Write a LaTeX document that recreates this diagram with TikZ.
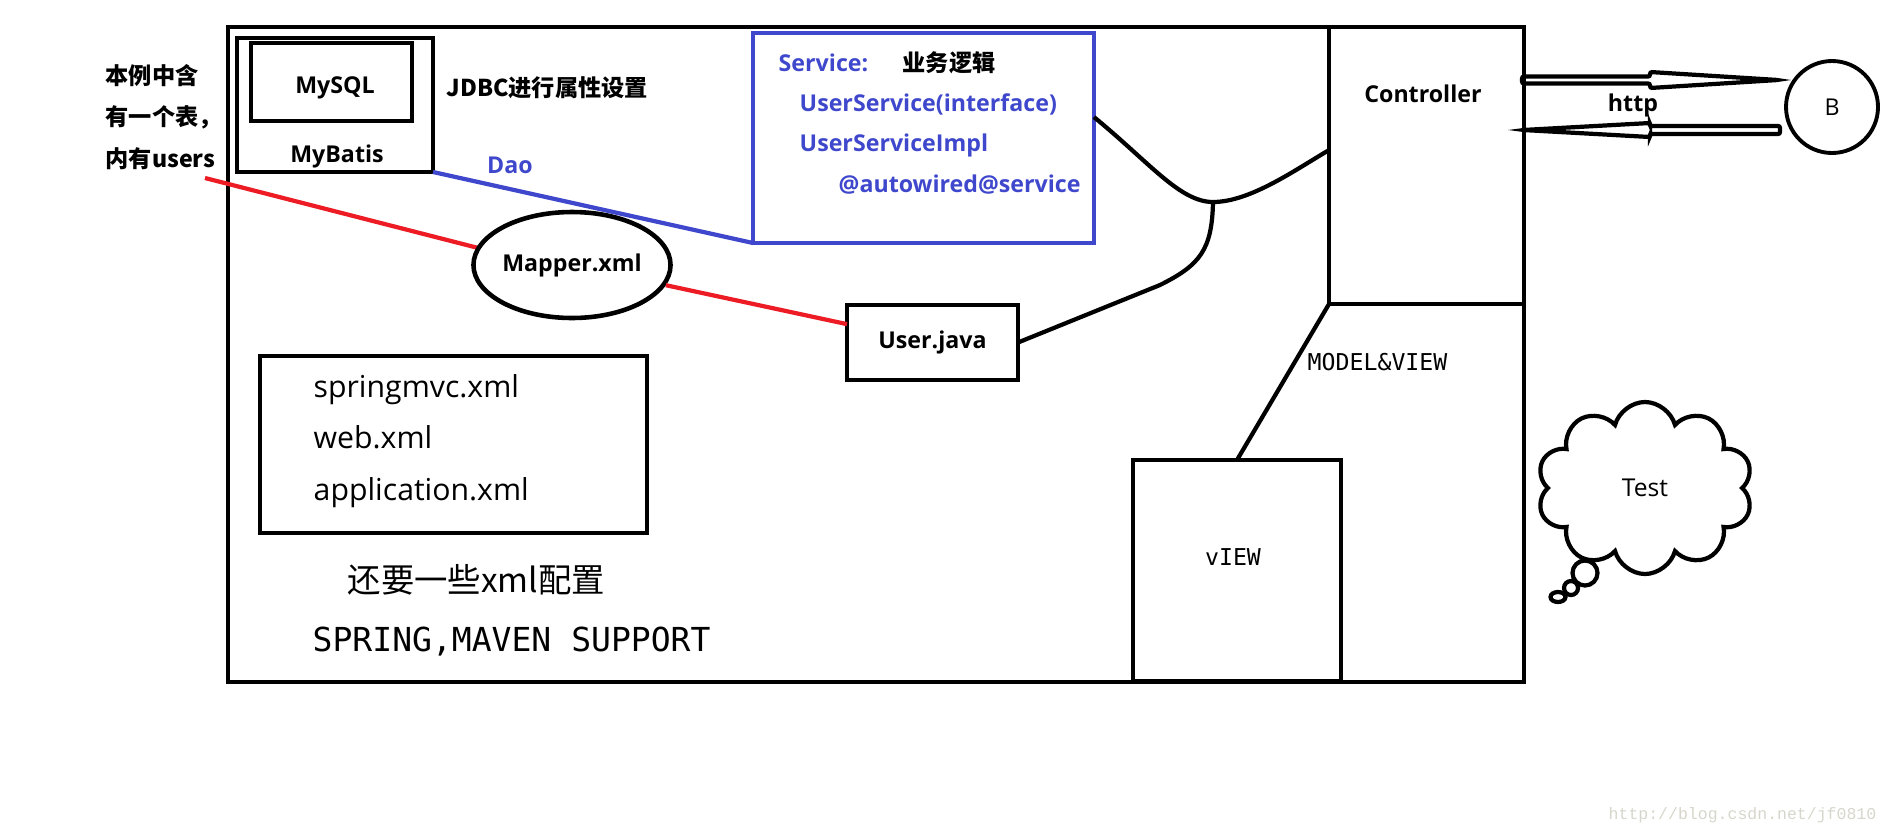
\documentclass[tikz,border=0pt]{standalone}
\usepackage{fontspec}
\setmainfont{Open Sans}
\setmonofont{DejaVu Sans Mono}
\newfontfamily\cjk{Noto Sans CJK SC}
\newfontfamily\wmfont{Liberation Mono}
\usetikzlibrary{shapes.geometric, shapes.symbols}
\definecolor{paintblue}{RGB}{63,72,204}
\definecolor{paintred}{RGB}{237,28,36}
\definecolor{wmgray}{RGB}{214,214,204}
\tikzstyle{frame} = [draw=black, line width=1.3pt]
\tikzstyle{box} = [
    rectangle,
    draw=black,
    line width=1.3pt,
    inner sep=0pt,
    outer sep=0pt
]
\tikzstyle{bluebox} = [box, draw=paintblue]
\tikzstyle{bold} = [
    font=\bfseries\fontsize{6.6}{8}\selectfont,
    inner sep=0pt
]
\tikzstyle{cjkbold} = [
    font=\cjk\bfseries\fontsize{6.6}{8}\selectfont,
    inner sep=0pt
]
\tikzstyle{bluetext} = [bold, text=paintblue, anchor=west]
\tikzstyle{monotext} = [
    font=\ttfamily\fontsize{6.6}{8}\selectfont,
    inner sep=0pt
]
\tikzstyle{wire} = [line width=1.2pt]
\tikzstyle{redline} = [wire, draw=paintred]
\tikzstyle{blueline} = [wire, draw=paintblue]
\tikzstyle{httparrow} = [line width=1.2pt, rounded corners=0.2mm]
\tikzstyle{bubble} = [circle, draw=black, line width=1.2pt, fill=white, inner sep=0pt]

\begin{document}
\begin{tikzpicture}[x=0.1mm, y=-0.1mm]
\useasboundingbox (0,0) rectangle (1889,836);

\draw [frame] (228,27) rectangle (1524,682);

\node (mybatis) [box, minimum width=19.6mm, minimum height=13.4mm] at (335,105) {};
\node (mysql) [box, minimum width=16.1mm, minimum height=7.8mm] at (331.5,82) {};
\node (mysqllabel) [bold] at (335,88) {MySQL};
\node (mybatislabel) [bold] at (337,156) {MyBatis};
\node (jdbc) [cjkbold, anchor=west] at (446,88) {JDBC进行属性设置};

\node (usersnote) [cjkbold, align=left, anchor=west,
    font=\cjk\bfseries\fontsize{6.6}{11.7}\selectfont] at (105,117)
{本例中含\\有一个表，\\内有users};

\node (svc) [bluebox, minimum width=34.1mm, minimum height=21mm] at (923.5,138) {};
\node (svctitle) [bluetext] at (778,63) {Service:};
\node (svclogic) [cjkbold, anchor=west] at (902,63) {业务逻辑};
\node (svcif) [bluetext] at (799,104) {UserService(interface)};
\node (svcimpl) [bluetext] at (799,145) {UserServiceImpl};
\node (svcauto) [bluetext] at (838,185) {@autowired@service};

\coordinate (noteend) at (205,178);
\draw [redline] (noteend) -- (572,272);

\node (mapper) [ellipse, draw=black, line width=1.3pt, fill=white,
    minimum width=19.2mm, minimum height=10.6mm, bold] at (572,265) {Mapper.xml};

\node (ujava) [box, minimum width=17.1mm, minimum height=7.5mm, bold] at (932.5,342.5) {User.java};

\draw [redline] (mapper) -- (ujava);

\draw [blueline] (mybatis.south east) -- (svc.south west);
\node (dao) [bold, text=paintblue] at (510,165) {Dao};

\node (ctl) [box, minimum width=19.5mm, minimum height=27.7mm] at (1426.5,165.5) {};
\node (ctllabel) [bold] at (1423,94) {Controller};

\coordinate (jn) at (1213,202);
\draw [wire] (svc.7) .. controls (1150,163) and (1180,202) .. (jn)
    .. controls (1250,202) and (1295,170) .. (ctl.171);
\draw [wire] (jn) .. controls (1212,250) and (1200,265) .. (1160,285) -- (ujava.east);

\node (view) [box, minimum width=20.8mm, minimum height=22.1mm] at (1237,570.5) {};
\node (viewlabel) [monotext] at (1233,557) {vIEW};
\draw [wire] (ctl.south west) -- (view.north);
\node (mv) [monotext, anchor=west] at (1307,362) {MODEL\&VIEW};

\node (files) [box, minimum width=38.7mm, minimum height=17.7mm] at (453.5,444.5) {};
\node (filelist) [anchor=west, align=left, inner sep=0pt,
    font=\fontsize{8.6}{14.6}\selectfont] at (313,441)
{springmvc.xml\\web.xml\\application.xml};

\node (moreconf) [anchor=west, inner sep=0pt, font=\cjk\fontsize{9.5}{11}\selectfont] at (347,580) {还要一些xml配置};
\node (support) [anchor=west, inner sep=0pt, font=\ttfamily\fontsize{9.4}{11}\selectfont] at (312,642) {SPRING,MAVEN SUPPORT};

\node (browser) [circle, draw=black, line width=1.1pt, minimum size=9.2mm, inner sep=0pt,
    font=\fontsize{6.6}{8}\selectfont] at (1832,107) {B};

\coordinate (reqtail) at (1522,80);
\coordinate (resptip) at (1523,130);
\draw [httparrow] (reqtail) ++(0,-3.5) -- ++(128,0) -- ++(0,-4.5) -- ++(128,8)
    -- ++(-128,8) -- ++(0,-4.5) -- ++(-128,0) -- cycle;
\draw [httparrow] (resptip) -- ++(127,-7) -- ++(0,3) -- ++(130,0)
    -- ++(0,8) -- ++(-130,0) -- ++(0,3) -- cycle;
\node (httplabel) [bold] at (1633,105) {http};

\node (test) [cloud, draw=black, line width=1.2pt, fill=white, cloud puffs=10, aspect=1.25,
    minimum width=21.6mm, minimum height=17.2mm, inner sep=0pt,
    font=\fontsize{7}{8}\selectfont] at (1645,488) {Test};
\node (bub1) [bubble, minimum size=2.5mm] at (1585,573) {};
\node (bub2) [bubble, minimum size=1.4mm] at (1571,588) {};
\node (bub3) [bubble, ellipse, minimum width=1.5mm, minimum height=1mm] at (1558,597) {};

\node (watermark) [anchor=east, inner sep=0pt, text=wmgray,
    font=\wmfont\fontsize{4.7}{6}\selectfont] at (1877,815) {http://blog.csdn.net/jf0810};

\end{tikzpicture}
\end{document}
